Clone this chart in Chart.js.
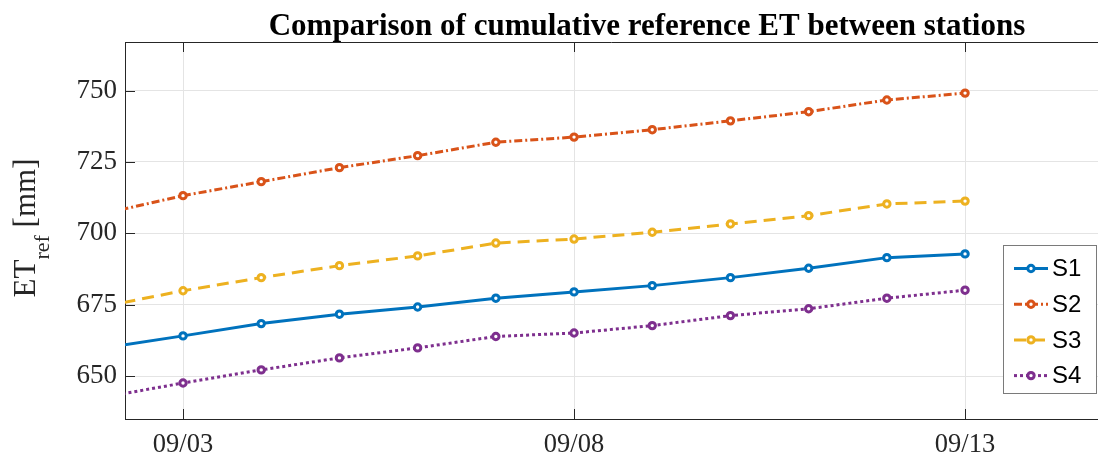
<!DOCTYPE html>
<html>
<head>
<meta charset="utf-8">
<script src="https://cdn.jsdelivr.net/npm/chart.js@4.4.1/dist/chart.umd.min.js"></script>
<style>
  html, body { margin: 0; padding: 0; background: #fff; overflow: hidden; }
  #wrap { width: 1098px; height: 455px; position: relative; }
</style>
</head>
<body>
<div id="wrap"><canvas id="c" width="1098" height="455"></canvas></div>
<script>
// Day of September for each daily reading
const days = [2, 3, 4, 5, 6, 7, 8, 9, 10, 11, 12, 13];
// Cumulative reference ET per station [mm]
const s1 = [659.9, 664.1, 668.4, 671.7, 674.2, 677.3, 679.5, 681.7, 684.5, 687.8, 691.5, 692.8];
const s2 = [707.0, 713.2, 718.1, 723.0, 727.2, 731.9, 733.7, 736.3, 739.4, 742.6, 746.7, 749.1];
const s3 = [674.5, 679.9, 684.5, 688.7, 692.1, 696.6, 698.0, 700.4, 703.3, 706.2, 710.3, 711.3];
const s4 = [642.7, 647.6, 652.2, 656.4, 659.9, 663.9, 665.1, 667.7, 671.2, 673.6, 677.3, 680.1];
const seriesNames = ['S1', 'S2', 'S3', 'S4'];
const xTickDays = [3, 8, 13];
const xTickLabels = ['09/03', '09/08', '09/13'];
const yTicks = [650, 675, 700, 725, 750];
const titleText = 'Comparison of cumulative reference ET between stations';

const AXIS = '#262626';
const GRID = '#e4e4e4';
const SERIF = '"Liberation Serif", "Times New Roman", serif';
const SANS = '"Liberation Sans", Arial, sans-serif';

const colors = ['#0072BD', '#D95319', '#EDB120', '#7E2F8E'];
const dashes = [[], [8, 3, 2, 3], [12, 7], [3, 3]];
const values = [s1, s2, s3, s4];

const datasets = values.map((vals, i) => ({
  label: seriesNames[i],
  data: days.map((d, k) => ({ x: d, y: vals[k] })),
  borderColor: colors[i],
  borderWidth: 3,
  borderDash: dashes[i],
  borderCapStyle: 'butt',
  pointRadius: 3.2,
  pointBorderWidth: 3,
  pointBorderColor: colors[i],
  pointBackgroundColor: '#ffffff',
  tension: 0,
  clip: 0
}));

// Frame, inward tick marks, title, y label with subscript and the boxed legend
const decorations = {
  id: 'decorations',
  afterDraw(chart) {
    const ctx = chart.ctx;
    const a = chart.chartArea;
    const xs = chart.scales.x, ys = chart.scales.y;
    ctx.save();

    // top frame line
    ctx.strokeStyle = AXIS;
    ctx.lineWidth = 1;
    ctx.beginPath();
    ctx.moveTo(a.left, a.top + 0.5);
    ctx.lineTo(a.right, a.top + 0.5);
    ctx.stroke();

    // inward tick marks
    ctx.beginPath();
    yTicks.forEach(v => {
      const py = Math.round(ys.getPixelForValue(v)) + 0.5;
      ctx.moveTo(a.left, py);
      ctx.lineTo(a.left + 10, py);
    });
    xTickDays.forEach(v => {
      const px = Math.round(xs.getPixelForValue(v)) + 0.5;
      ctx.moveTo(px, a.top);
      ctx.lineTo(px, a.top + 10);
      ctx.moveTo(px, a.bottom);
      ctx.lineTo(px, a.bottom - 10);
    });
    ctx.stroke();

    // title
    ctx.fillStyle = '#000';
    ctx.font = 'bold 31px ' + SERIF;
    ctx.textAlign = 'center';
    ctx.textBaseline = 'alphabetic';
    ctx.fillText(titleText, 647, 35);

    // y-axis label: ET_ref [mm]
    ctx.fillStyle = AXIS;
    ctx.textAlign = 'left';
    const big = '31px ' + SERIF, small = '22px ' + SERIF;
    ctx.font = big;
    const wET = ctx.measureText('ET').width;
    const wMM = ctx.measureText(' [mm]').width;
    ctx.font = small;
    const wRef = ctx.measureText('ref').width;
    const total = wET + wRef + wMM;
    ctx.translate(35, 228 + total / 2);
    ctx.rotate(-Math.PI / 2);
    ctx.font = big;
    ctx.fillText('ET', 0, 0);
    ctx.font = small;
    ctx.fillText('ref', wET, 14);
    ctx.font = big;
    ctx.fillText(' [mm]', wET + wRef, 0);
    ctx.setTransform(1, 0, 0, 1, 0, 0);

    // legend
    const bx = 1003, by = 245, bw = 93, bh = 148;
    ctx.fillStyle = '#fff';
    ctx.fillRect(bx, by, bw, bh);
    ctx.strokeStyle = '#7a7a7a';
    ctx.lineWidth = 1;
    ctx.strokeRect(bx + 0.5, by + 0.5, bw, bh);
    chart.data.datasets.forEach((ds, i) => {
      const cy = 268.5 + i * 35.7;
      ctx.save();
      ctx.strokeStyle = ds.borderColor;
      ctx.lineWidth = ds.borderWidth;
      ctx.setLineDash(ds.borderDash);
      ctx.lineCap = 'butt';
      ctx.beginPath();
      ctx.moveTo(1014, cy);
      ctx.lineTo(1048, cy);
      ctx.stroke();
      ctx.setLineDash([]);
      ctx.beginPath();
      ctx.arc(1031, cy, ds.pointRadius, 0, Math.PI * 2);
      ctx.fillStyle = ds.pointBackgroundColor;
      ctx.fill();
      ctx.lineWidth = ds.pointBorderWidth;
      ctx.strokeStyle = ds.pointBorderColor;
      ctx.stroke();
      ctx.restore();
      ctx.fillStyle = '#000';
      ctx.font = '24px ' + SANS;
      ctx.textAlign = 'left';
      ctx.textBaseline = 'middle';
      ctx.fillText(ds.label, 1052, cy + 1);
    });

    ctx.restore();
  }
};

new Chart(document.getElementById('c'), {
  type: 'line',
  data: { datasets },
  options: {
    responsive: false,
    animation: false,
    devicePixelRatio: 1,
    layout: { autoPadding: false, padding: { top: 42, right: 0, left: 0, bottom: 0 } },
    plugins: { legend: { display: false }, title: { display: false }, tooltip: { enabled: false } },
    scales: {
      x: {
        type: 'linear',
        min: 2.258,
        max: 14.70,
        afterBuildTicks: s => { s.ticks = xTickDays.map(v => ({ value: v })); },
        afterFit: s => { s.height = 36; },
        ticks: {
          callback: v => xTickLabels[xTickDays.indexOf(v)],
          font: { family: SERIF, size: 26.5 },
          color: AXIS,
          padding: 10,
          maxRotation: 0,
          autoSkip: false
        },
        grid: { color: GRID, lineWidth: 1, drawTicks: false },
        border: { display: true, color: AXIS, width: 1 }
      },
      y: {
        min: 635,
        max: 767,
        afterBuildTicks: s => { s.ticks = yTicks.map(v => ({ value: v })); },
        afterFit: s => { s.width = 125; },
        ticks: {
          font: { family: SERIF, size: 27 },
          color: AXIS,
          padding: 8
        },
        grid: { color: GRID, lineWidth: 1, drawTicks: false },
        border: { display: true, color: AXIS, width: 1 }
      }
    }
  },
  plugins: [decorations]
});
</script>
</body>
</html>
